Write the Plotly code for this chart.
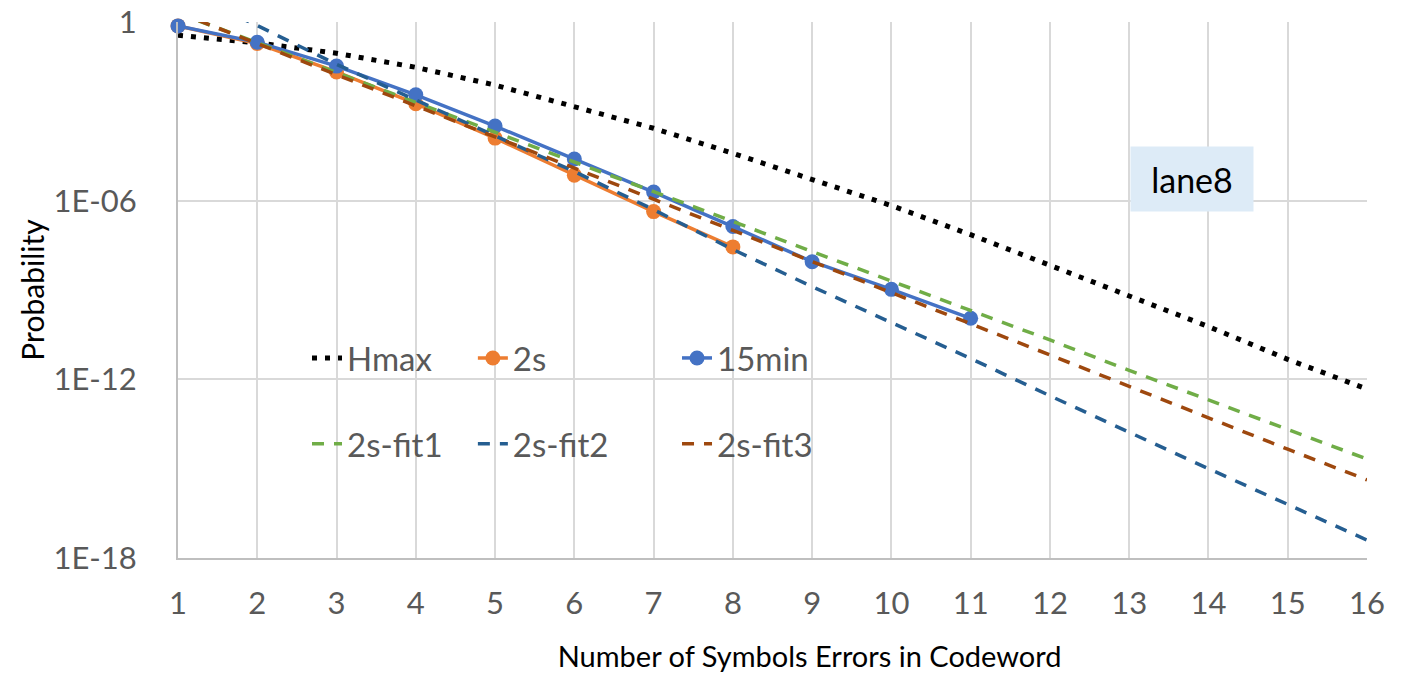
import plotly.graph_objects as go

x_errors = list(range(1, 17))
tick_labels = [str(v) for v in x_errors]

hmax = [3.6e-1, 2.0e-1, 8.9e-2, 3.0e-2, 7.6e-3, 1.5e-3, 2.7e-4, 3.9e-5,
        5.2e-6, 6.8e-7, 7.2e-8, 6.9e-9, 6.3e-10, 5.9e-11, 4.7e-12, 4.7e-13]
s2 = [7.4e-1, 1.9e-1, 2.1e-2, 1.8e-3, 1.26e-4, 7.2e-6, 4.3e-7, 2.8e-8]
min15 = [7.4e-1, 2.1e-1, 3.3e-2, 3.6e-3, 3.2e-4, 2.5e-5, 1.95e-6, 1.35e-7,
         8.9e-9, 1.05e-9, 1.12e-10]
fit1 = [2.0, 2.0e-1, 2.1e-2, 2.0e-3, 2.1e-4, 2.0e-5, 2.0e-6, 2.0e-7,
        1.95e-8, 2.0e-9, 2.1e-10, 2.1e-11, 2.0e-12, 2.0e-13, 2.1e-14, 2.1e-15]
fit2 = [12.6, 7.6e-1, 3.8e-2, 2.4e-3, 1.6e-4, 9.5e-6, 5.0e-7, 2.3e-8,
        1.3e-9, 8.3e-11, 5.0e-12, 2.8e-13, 1.66e-14, 1.0e-15, 6.3e-17, 4.0e-18]
fit3 = [2.1, 1.9e-1, 1.7e-2, 1.5e-3, 1.4e-4, 1.2e-5, 1.1e-6, 1.05e-7,
        8.9e-9, 8.3e-10, 7.4e-11, 6.6e-12, 5.8e-13, 5.0e-14, 4.5e-15, 4.2e-16]

y_tickvals = [1, 1e-6, 1e-12, 1e-18]
y_ticktext = ["1", "1E-06", "1E-12", "1E-18"]

FONT = "Lato"
TICKCOL = "#595959"
GRID = "#d9d9d9"

fig = go.Figure()

fig.add_trace(go.Scatter(x=x_errors[:len(hmax)], y=hmax, name="Hmax", mode="lines",
                         line=dict(color="black", width=5, dash="5px,8px"),
                         legend="legend", legendgroup="a"))
fig.add_trace(go.Scatter(x=x_errors[:len(s2)], y=s2, name="2s", mode="lines+markers",
                         line=dict(color="#ED7D31", width=3.5),
                         marker=dict(size=15, color="#ED7D31"),
                         legend="legend2", legendgroup="b"))
fig.add_trace(go.Scatter(x=x_errors[:len(min15)], y=min15, name="15min", mode="lines+markers",
                         line=dict(color="#4472C4", width=3.5),
                         marker=dict(size=15, color="#4472C4"),
                         legend="legend3", legendgroup="c"))
fig.add_trace(go.Scatter(x=x_errors[:len(fit1)], y=fit1, name="2s-fit1", mode="lines",
                         line=dict(color="#70AD47", width=3.5, dash="12px,10px"),
                         legend="legend", legendgroup="d"))
fig.add_trace(go.Scatter(x=x_errors[:len(fit2)], y=fit2, name="2s-fit2", mode="lines",
                         line=dict(color="#255E91", width=3.5, dash="12px,10px"),
                         legend="legend2", legendgroup="e"))
fig.add_trace(go.Scatter(x=x_errors[:len(fit3)], y=fit3, name="2s-fit3", mode="lines",
                         line=dict(color="#9E480E", width=3.5, dash="12px,10px"),
                         legend="legend3", legendgroup="f"))

for tr in fig.data:
    tr.cliponaxis = False

leg_common = dict(
    bgcolor="rgba(0,0,0,0)", font=dict(family=FONT, size=33, color=TICKCOL),
    yanchor="top", xanchor="left", tracegroupgap=40, traceorder="grouped",
    orientation="v", itemwidth=30,
)

fig.update_layout(
    width=1413, height=673,
    margin=dict(l=178, r=46, t=22, b=115, autoexpand=False),
    paper_bgcolor="white", plot_bgcolor="white",
    font=dict(family=FONT),
    legend=dict(x=0.1085, y=0.4254, **leg_common),
    legend2=dict(x=0.248, y=0.4254, **leg_common),
    legend3=dict(x=0.4197, y=0.4254, **leg_common),
    xaxis=dict(
        range=[1, 16], tickvals=x_errors, ticktext=tick_labels,
        showgrid=True, gridcolor=GRID, gridwidth=2, automargin=False,
        showline=True, linecolor="#bfbfbf", linewidth=2, zeroline=False,
        ticks="outside", ticklen=17, tickcolor="rgba(0,0,0,0)",
        tickfont=dict(family=FONT, size=31, color=TICKCOL),
        title=dict(text="&nbsp;" * 10 + "Number of Symbols Errors in Codeword",
                   font=dict(family=FONT, size=29, color="black"), standoff=28),
    ),
    yaxis=dict(
        type="log", range=[-18, 0], tickvals=y_tickvals, ticktext=y_ticktext,
        showgrid=True, gridcolor=GRID, gridwidth=2, automargin=False,
        showline=True, linecolor="#bfbfbf", linewidth=2, zeroline=False,
        ticks="outside", ticklen=33, tickcolor="rgba(0,0,0,0)",
        tickfont=dict(family=FONT, size=31, color=TICKCOL),
        title=dict(text="Probability",
                   font=dict(family=FONT, size=30, color="black"), standoff=0),
    ),
    annotations=[dict(
        text="lane8", xref="paper", yref="paper", x=0.853, y=0.707,
        xanchor="center", yanchor="middle", showarrow=False,
        font=dict(family=FONT, size=34, color="black"),
        bgcolor="#DDEBF7", width=120, height=62,
    )],
)

fig.write_html("out.html")
